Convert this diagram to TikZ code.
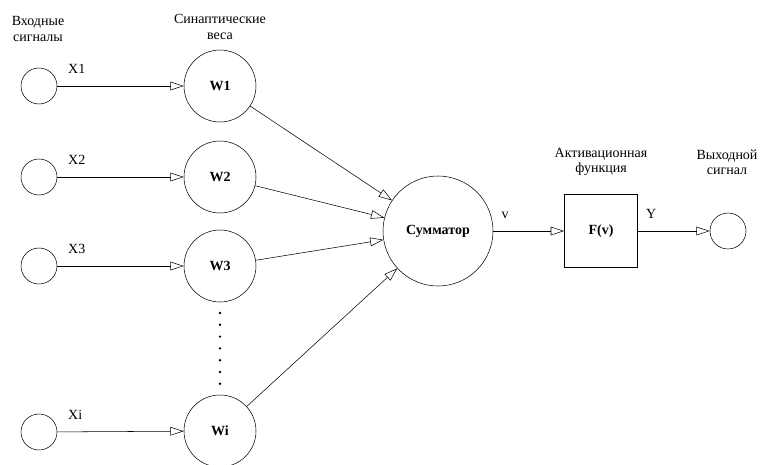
\documentclass[tikz,border=0pt]{standalone}
\usepackage{fontspec}
\setmainfont{Liberation Serif}
\usetikzlibrary{arrows.meta,positioning}

\begin{document}
\begin{tikzpicture}
[x=0.75pt,y=-0.75pt,
inp/.style={circle,draw,minimum size=27pt,inner sep=0pt},
wgt/.style={circle,draw,minimum size=54pt,inner sep=0pt,font=\rmfamily\fontsize{10.5}{12}\bfseries},
lbl/.style={align=center,font=\rmfamily\fontsize{10.5}{11.5}\selectfont,inner sep=0pt},
arr/.style={-{Triangle[open,length=10pt,width=6.5pt]}}];
\useasboundingbox (0,0) rectangle (760,464);

\node[lbl] (tin) at (38,29) {Входные\\сигналы};
\node[lbl] (tw) at (220,27) {Синаптические\\веса};
\node[lbl] (tf) at (601,162) {Активационная\\функция};
\node[lbl] (tout) at (727,162) {Выходной\\сигнал};

\node[inp] (x1) at (39,86) {};
\node[inp] (x2) at (39,177) {};
\node[inp] (x3) at (39,266) {};
\node[inp] (xi) at (39,432) {};

\node[wgt] (w1) at (220,86) {W1};
\node[wgt] (w2) at (220,177) {W2};
\node[wgt] (w3) at (220,266) {W3};
\node[wgt] (wi) at (220,431) {Wi};

\node[wgt,minimum size=82.5pt] (sum) at (438,231) {Сумматор};
\node[wgt,rectangle,minimum size=55pt] (fv) at (601,231) {F(v)};
\node[inp] (out) at (728,231) {};

\draw[arr] (x1) -- (w1) node[lbl,pos=0,anchor=south west,xshift=8pt,yshift=9pt] (lx1) {X1};
\draw[arr] (x2) -- (w2) node[lbl,pos=0,anchor=south west,xshift=8pt,yshift=9pt] (lx2) {X2};
\draw[arr] (x3) -- (w3) node[lbl,pos=0,anchor=south west,xshift=8pt,yshift=9pt] (lx3) {X3};
\draw[arr] (xi) -- (wi) node[lbl,pos=0,anchor=south west,xshift=8pt,yshift=9pt] (lxi) {Xi};

\draw[arr] (w1) -- (sum);
\draw[arr] (w2) -- (sum);
\draw[arr] (w3) -- (sum);
\draw[arr] (wi) -- (sum);

\draw[arr] (sum) -- (fv) node[lbl,pos=0,anchor=south west,xshift=6pt,yshift=9pt] (lv) {v};
\draw[arr] (fv) -- (out) node[lbl,pos=0,anchor=south west,xshift=6pt,yshift=9pt] (ly) {Y};

\foreach \k in {0,...,6}
  \fill (220,313+\k*11.8) circle (1pt);
\end{tikzpicture}
\end{document}
